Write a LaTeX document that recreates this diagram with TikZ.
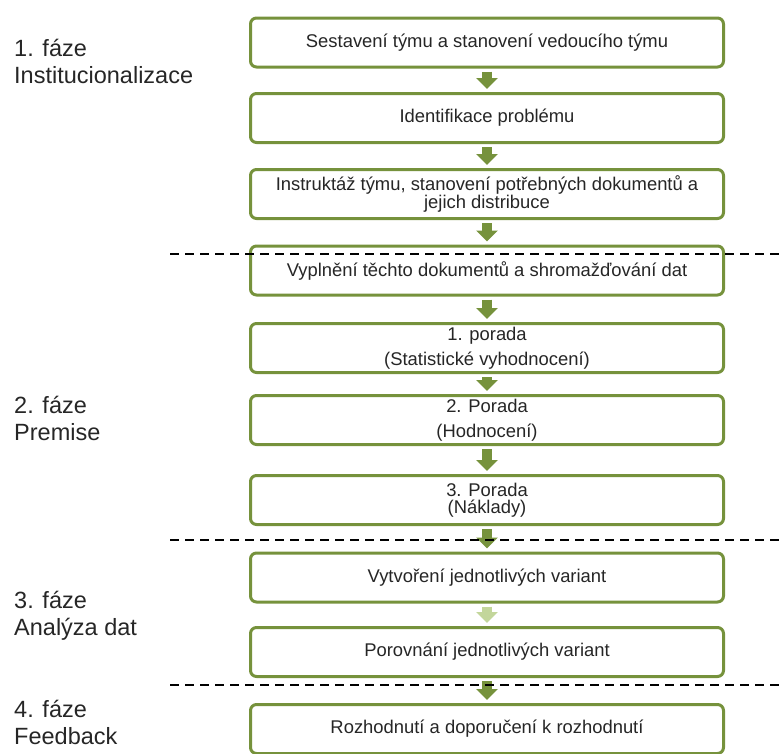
\documentclass[tikz,border=0pt]{standalone}
\usepackage{fontspec}
\setmainfont{Liberation Sans}
\usetikzlibrary{arrows.meta}
\definecolor{PhaseGreen}{HTML}{76923C}
\definecolor{PhaseLight}{HTML}{C3D69B}
\definecolor{PhaseText}{HTML}{262626}

\begin{document}
\begin{tikzpicture}[
    x=1pt, y=-1pt,
    stepbox/.style={
      draw=PhaseGreen,
      line width=3pt,
      rounded corners=6pt,
      fill=white,
      text=PhaseText,
      minimum width=473pt,
      minimum height=49pt,
      inner sep=2pt,
      align=center,
      font=\fontsize{18.4}{17.5}\selectfont
    },
    flow/.style={
      draw=PhaseGreen,
      line width=10pt,
      -{Triangle[width=21pt,length=11pt]},
      shorten <=3pt,
      shorten >=3pt
    },
    phaselabel/.style={
      anchor=west,
      align=left,
      inner sep=0pt,
      text=PhaseText,
      font=\fontsize{23.5}{27}\selectfont
    },
    divider/.style={
      draw=black,
      line width=1.8pt,
      dash pattern=on 9pt off 6pt
    }
  ]
  \useasboundingbox (0,0) rectangle (779,753);

  % faze
  \node[phaselabel] (f1) at (14,61) {1. fáze\\Institucionalizace};
  \node[phaselabel] (f2) at (14,418) {2. fáze\\Premise};
  \node[phaselabel] (f3) at (14,616) {3. fáze\\Analýza dat};
  \node[phaselabel] (f4) at (14,722) {4. fáze\\Feedback};

  % kroky
  \node[stepbox] (b1) at (487,42.5) {Sestavení týmu a stanovení vedoucího týmu};
  \node[stepbox] (b2) at (487,118) {Identifikace problému};
  \node[stepbox] (b3) at (487,194) {Instruktáž týmu, stanovení potřebných dokumentů a\\jejich distribuce};
  \node[stepbox] (b4) at (487,270.5) {Vyplnění těchto dokumentů a shromažďování dat};
  \node[stepbox, font=\fontsize{18.4}{25}\selectfont] (b5) at (487,348) {1. porada\\(Statistické vyhodnocení)};
  \node[stepbox, font=\fontsize{18.4}{25}\selectfont] (b6) at (487,420) {2. Porada\\(Hodnocení)};
  \node[stepbox] (b7) at (487,500) {3. Porada\\(Náklady)};
  \node[stepbox] (b8) at (487,577.5) {Vytvoření jednotlivých variant};
  \node[stepbox] (b9) at (487,652) {Porovnání jednotlivých variant};
  \node[stepbox] (b10) at (487,729) {Rozhodnutí a doporučení k rozhodnutí};

  % sipky
  \draw[flow] (b1) -- (b2);
  \draw[flow] (b2) -- (b3);
  \draw[flow] (b3) -- (b4);
  \draw[flow] (b4) -- (b5);
  \draw[flow] (b5) -- (b6);
  \draw[flow] (b6) -- (b7);
  \draw[flow] (b7) -- (b8);
  \draw[flow, draw=PhaseLight] (b8) -- (b9);
  \draw[flow] (b9) -- (b10);

  % hranice fazi
  \draw[divider] (170,254) -- (779,254);
  \draw[divider] (170,540) -- (779,540);
  \draw[divider] (170,685) -- (779,685);
\end{tikzpicture}
\end{document}
